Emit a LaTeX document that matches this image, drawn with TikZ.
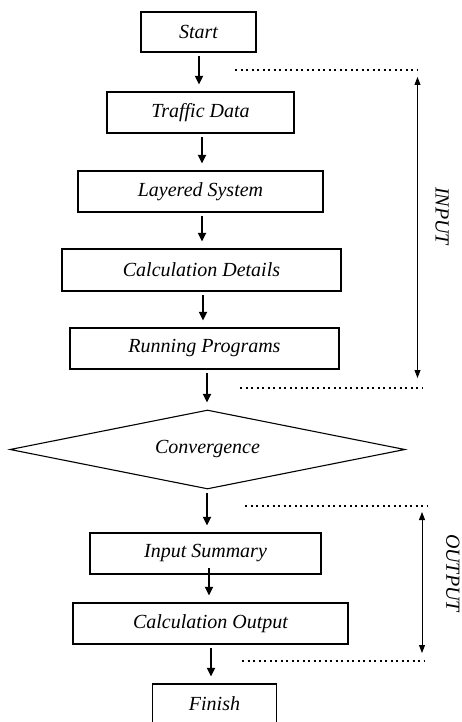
\documentclass[tikz,border=0pt]{standalone}
\usepackage{fontspec}
\setmainfont{Liberation Serif}
\usetikzlibrary{arrows.meta,shapes.geometric}
\begin{document}
\begin{tikzpicture}[x=1pt,y=-1pt,
  box/.style={draw=black,line width=1.1pt,rectangle,inner sep=0pt,font=\fontsize{20}{22}\selectfont\itshape},
  flow/.style={line width=1.8pt,-{Triangle[length=8.5pt,width=8pt]},shorten <=4pt,shorten >=7pt},
  dots/.style={line width=2pt,dash pattern=on 2.4pt off 3.1pt},
  span/.style={line width=0.9pt,{Triangle[length=8pt,width=6pt]}-{Triangle[length=8pt,width=6pt]}},
  side/.style={font=\fontsize{20}{22}\selectfont\itshape,rotate=-90}]
\useasboundingbox (0,0) rectangle (461,722);
\node[box,minimum width=115pt,minimum height=40pt] (start) at (198.5,32) {Start};
\node[box,minimum width=187pt,minimum height=41pt] (traffic) at (200.5,112.5) {Traffic Data};
\node[box,minimum width=245pt,minimum height=41pt] (layered) at (200.5,191.5) {Layered System};
\node[box,minimum width=279pt,minimum height=42pt] (details) at (201.5,270) {Calculation Details};
\node[box,minimum width=269pt,minimum height=41pt] (running) at (204.5,348.5) {Running Programs};
\node[box,diamond,aspect=5,minimum width=395pt,minimum height=79pt] (conv) at (207.5,449.5) {Convergence};
\node[box,minimum width=231pt,minimum height=41pt] (summary) at (205.5,553.5) {Input Summary};
\node[box,minimum width=275pt,minimum height=41pt] (output) at (210.5,623.5) {Calculation Output};
\node[box,minimum width=124pt,minimum height=40pt] (finish) at (214.5,704) {Finish};

\draw[flow] (199,52) coordinate (a0) -- (a0 |- traffic.north);
\draw[flow] (202,133) coordinate (a1) -- (a1 |- layered.north);
\draw[flow] (202,212) coordinate (a2) -- (a2 |- details.north);
\draw[flow] (203,291) coordinate (a3) -- (a3 |- running.north);
\draw[flow] (207,369) coordinate (a4) -- (a4 |- conv.north);
\draw[flow] (207,489) coordinate (a5) -- (a5 |- summary.north);
\draw[flow,shorten <=-6pt] (209,574) coordinate (a6) -- (a6 |- output.north);
\draw[flow] (211,644) coordinate (a7) -- (a7 |- finish.north);

\coordinate (d1a) at (235,70); \coordinate (d1b) at (418,70);
\coordinate (d2a) at (240,388); \coordinate (d2b) at (422,388);
\coordinate (d3a) at (245,506); \coordinate (d3b) at (427,506);
\coordinate (d4a) at (242,661); \coordinate (d4b) at (424,661);
\draw[dots] (d1a) -- (d1b);
\draw[dots] (d2a) -- (d2b);
\draw[dots] (d3a) -- (d3b);
\draw[dots] (d4a) -- (d4b);

\coordinate (i1) at (417.5,77); \coordinate (i2) at (417.5,378);
\draw[span] (i1) -- (i2);
\coordinate (o1) at (422,512); \coordinate (o2) at (422,653);
\draw[span] (o1) -- (o2);
\node[side] (inlabel) at (442,216) {INPUT};
\node[side] (outlabel) at (453,573) {OUTPUT};
\end{tikzpicture}
\end{document}
